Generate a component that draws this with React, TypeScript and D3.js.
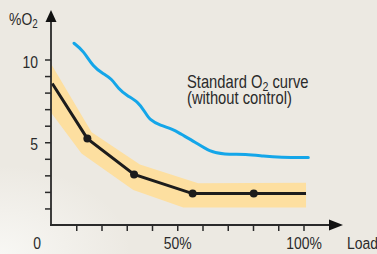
import * as d3 from "d3";
import { useRef, useEffect } from "react";

// Load in %, O2 in %
const controlledLine: [number, number][] = [
  [0.5, 8.55],
  [14.4, 5.22],
  [32.9, 3.05],
  [56.1, 1.9],
  [80.3, 1.9],
  [101, 1.9],
];
const controlledDots: [number, number][] = [
  [14.4, 5.22],
  [32.9, 3.05],
  [56.1, 1.9],
  [80.3, 1.9],
];
const bandUpper: [number, number][] = [
  [0, 9.75],
  [16.1, 5.6],
  [35.2, 3.65],
  [58.3, 2.52],
  [101, 2.55],
];
const bandLower: [number, number][] = [
  [0, 6.8],
  [12.1, 4.32],
  [32.6, 2.11],
  [52.4, 1.06],
  [101, 1.06],
];
const standardCurve: [number, number][] = [
  [9.1, 10.98],
  [12.8, 10.54],
  [16.8, 9.54],
  [20.7, 9.14],
  [24, 8.84],
  [26.7, 8.23],
  [30, 7.83],
  [34.6, 7.43],
  [37.2, 6.83],
  [39.2, 6.33],
  [43.2, 6.02],
  [48.4, 5.78],
  [51.1, 5.52],
  [57, 5.02],
  [63, 4.42],
  [68.2, 4.26],
  [77.5, 4.28],
  [84.1, 4.16],
  [90.7, 4.08],
  [101.9, 4.08],
];
const yTicks = [1, 2, 3, 4, 5, 6, 7, 8, 9, 10];
const yLabels = [5, 10];
const xTicks = [10, 20, 30, 40, 50, 60, 70, 80, 90, 100];
const xLabels = [50, 100];

// condensed look: Arial-metric font squeezed horizontally
const FONT = '"Liberation Sans", Arial, sans-serif';
const SQ = 0.82;
const INK = "#2a2a2a";

function App() {
  const ref = useRef<SVGSVGElement>(null);
  const width = 377;
  const height = 254;

  useEffect(() => {
    const svg = d3.select(ref.current);
    svg.selectAll("*").remove();

    const x = d3.scaleLinear().domain([0, 100]).range([51, 303.5]);
    const y = d3.scaleLinear().domain([0, 10]).range([225, 59.5]);

    // background
    const defs = svg.append("defs");
    const rg = defs
      .append("radialGradient")
      .attr("id", "bgglow")
      .attr("cx", "0")
      .attr("cy", "1")
      .attr("r", "0.35");
    rg.append("stop").attr("offset", "0").attr("stop-color", "#f8f7f4");
    rg.append("stop").attr("offset", "1").attr("stop-color", "#f8f7f4").attr("stop-opacity", 0);
    svg.append("rect").attr("width", width).attr("height", height).attr("fill", "#ece9e2");
    svg.append("rect").attr("width", width).attr("height", height).attr("fill", "url(#bgglow)");

    const line = d3
      .line<[number, number]>()
      .x((d) => x(d[0]))
      .y((d) => y(d[1]));

    // tolerance band
    svg
      .append("path")
      .attr("d", line([...bandUpper, ...bandLower.slice().reverse()]) + "Z")
      .attr("fill", "#fddfa0");

    // standard curve
    const smooth = d3
      .line<[number, number]>()
      .x((d) => x(d[0]))
      .y((d) => y(d[1]))
      .curve(d3.curveBasis);
    svg
      .append("path")
      .attr("d", smooth(standardCurve))
      .attr("fill", "none")
      .attr("stroke", "#14a6e9")
      .attr("stroke-width", 3)
      .attr("stroke-linecap", "round");

    // controlled curve
    svg
      .append("path")
      .attr("d", line(controlledLine))
      .attr("fill", "none")
      .attr("stroke", "#1c1c1c")
      .attr("stroke-width", 3);
    svg
      .selectAll(".dot")
      .data(controlledDots)
      .join("circle")
      .attr("class", "dot")
      .attr("cx", (d) => x(d[0]))
      .attr("cy", (d) => y(d[1]))
      .attr("r", 4)
      .attr("fill", "#1c1c1c");

    // axes
    const yAxis = svg
      .append("g")
      .attr("transform", `translate(${x(0)},0)`)
      .call(
        d3
          .axisLeft(y)
          .tickValues(yTicks)
          .tickSize(6)
          .tickFormat((d) => (yLabels.includes(+d) ? String(d) : ""))
      );
    yAxis.select(".domain").remove();
    yAxis.selectAll("line").attr("stroke", INK).attr("stroke-width", 1.5);
    yAxis
      .selectAll("text")
      .attr("fill", INK)
      .attr("font-family", FONT)
      .attr("font-size", 17)
      .attr("x", -13 / SQ)
      .attr("dy", "0.45em")
      .attr("transform", `scale(${SQ},1)`);

    const xAxis = svg
      .append("g")
      .attr("transform", `translate(0,${y(0)})`)
      .call(
        d3
          .axisBottom(x)
          .tickValues(xTicks)
          .tickSize(6)
          .tickPadding(6)
          .tickFormat((d) => (xLabels.includes(+d) ? `${d}%` : ""))
      );
    xAxis.select(".domain").remove();
    xAxis.selectAll("line").attr("stroke", INK).attr("stroke-width", 1.5);
    xAxis
      .selectAll("text")
      .attr("fill", INK)
      .attr("font-family", FONT)
      .attr("font-size", 17)
      .attr("transform", `scale(${SQ},1)`);

    // axis lines with arrows
    svg
      .append("line")
      .attr("x1", x(0))
      .attr("x2", x(0))
      .attr("y1", y(0) + 1)
      .attr("y2", 20)
      .attr("stroke", INK)
      .attr("stroke-width", 1.8);
    svg
      .append("path")
      .attr("d", `M${x(0)},10 L${x(0) + 5.5},22 L${x(0) - 5.5},22 Z`)
      .attr("fill", "#111");
    svg
      .append("line")
      .attr("x1", x(0) - 1)
      .attr("x2", 331)
      .attr("y1", y(0))
      .attr("y2", y(0))
      .attr("stroke", INK)
      .attr("stroke-width", 1.8);
    svg
      .append("path")
      .attr("d", `M343,${y(0)} L329,${y(0) - 5.5} L329,${y(0) + 5.5} Z`)
      .attr("fill", "#111");

    const txt = svg.append("g").attr("fill", INK).attr("font-family", FONT);
    const label = (px: number, py: number, size: number) =>
      txt
        .append("text")
        .attr("transform", `translate(${px},${py}) scale(${SQ},1)`)
        .attr("font-size", size);

    label(37, 249, 17).attr("text-anchor", "middle").text("0");
    label(347, 249, 17).text("Load");

    const yl = label(9, 25, 17);
    yl.append("tspan").text("%O");
    yl.append("tspan").attr("font-size", 12).attr("dy", 3).text("2");

    const t1 = label(187, 88, 18);
    t1.append("tspan").text("Standard O");
    t1.append("tspan").attr("font-size", 13).attr("dy", 3).text("2");
    t1.append("tspan").attr("dy", -3).text(" curve");
    label(187, 104, 18).text("(without control)");
  }, []);

  return (
    <svg
      ref={ref}
      width={width}
      height={height}
      style={{ position: "absolute", left: 0, top: 0 }}
    />
  );
}

export default App;
